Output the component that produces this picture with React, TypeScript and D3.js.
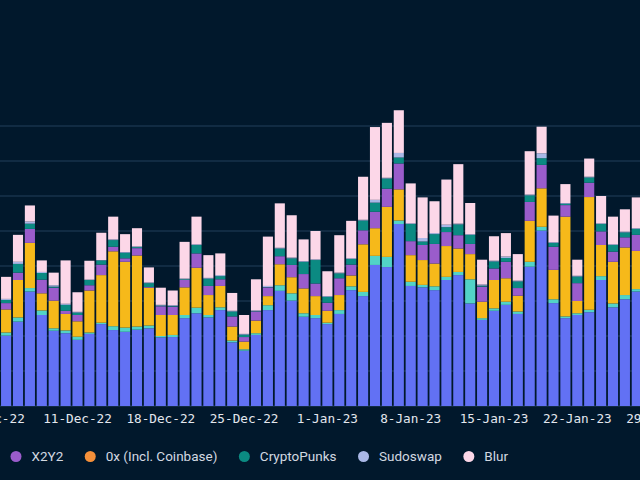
import React from "react";
import * as d3 from "d3";

const W = 640;
const H = 480;

// Axis categories: every day shown on the (cropped) time axis
const axisStart = new Date(2022, 11, 4);
const axisEnd = new Date(2023, 0, 30);
const dataStart = new Date(2022, 11, 5);
const tickLabels = ["4-Dec-22", "11-Dec-22", "18-Dec-22", "25-Dec-22", "1-Jan-23", "8-Jan-23", "15-Jan-23", "22-Jan-23", "29-Jan-23"];

const seriesNames = ["OpenSea", "Gem", "LooksRare", "X2Y2", "0x (Incl. Coinbase)", "CryptoPunks", "Sudoswap", "Blur"];
const seriesColors = ["#6271f4", "#52d3c7", "#f6b91a", "#9a5ccb", "#f5903a", "#0b8a82", "#a9b7e6", "#fcd7e8"];

const openSea = [20.1, 24.1, 32.7, 26.0, 21.5, 20.8, 18.9, 20.6, 23.4, 21.7, 21.2, 21.8, 22.2, 19.6, 19.7, 25.1, 26.5, 25.3, 27.4, 18.2, 15.8, 20.3, 27.4, 32.9, 30.1, 25.5, 25.1, 23.4, 26.3, 33.1, 31.4, 40.3, 39.7, 52.0, 34.3, 33.9, 33.1, 36.0, 37.4, 29.3, 24.6, 27.2, 28.9, 26.3, 39.8, 50.1, 29.4, 25.1, 26.0, 26.8, 36.0, 28.2, 30.5, 32.7];
const gem = [0.9, 1.2, 1.0, 1.3, 0.7, 0.8, 0.9, 0.4, 0.4, 1.1, 1.2, 0.9, 0.8, 0.4, 0.6, 0.9, 1.6, 0.7, 0.8, 0.5, 0.4, 0.5, 1.4, 1.6, 2.1, 1.0, 0.9, 0.4, 1.1, 1.1, 1.2, 2.6, 2.9, 1.0, 1.2, 0.7, 1.1, 0.9, 0.9, 6.9, 0.5, 0.7, 0.9, 0.7, 1.4, 1.1, 1.1, 0.5, 0.5, 0.7, 1.1, 1.1, 1.2, 0.7];
const looksRare = [6.6, 10.7, 12.9, 4.9, 7.9, 4.7, 4.4, 12.0, 13.6, 21.4, 18.8, 20.3, 10.8, 6.0, 5.7, 7.9, 11.4, 5.7, 6.1, 4.0, 2.2, 3.6, 2.6, 6.0, 4.6, 7.1, 5.4, 3.4, 4.3, 3.1, 13.6, 7.9, 14.3, 8.9, 7.6, 7.1, 6.5, 8.8, 6.7, 7.2, 4.7, 8.1, 6.7, 4.5, 11.7, 11.0, 8.4, 28.5, 3.5, 32.2, 8.9, 11.9, 13.6, 10.9];
const x2y2 = [1.8, 2.1, 4.0, 3.9, 3.7, 0.9, 1.8, 1.5, 3.0, 1.3, 1.0, 2.1, 0.2, 2.5, 2.4, 2.1, 4.1, 2.6, 1.9, 2.9, 1.3, 2.6, 2.5, 2.3, 3.5, 4.1, 3.6, 2.3, 4.8, 3.1, 4.0, 4.7, 5.2, 7.4, 4.0, 4.3, 5.6, 4.0, 3.8, 2.9, 4.3, 3.3, 4.7, 2.2, 5.4, 6.7, 6.6, 3.3, 5.1, 4.1, 3.9, 2.9, 2.9, 4.6];
const zeroX = [0, 0, 0, 0, 0, 0, 0, 0, 0, 0, 0, 0, 0, 0, 0, 0, 0, 0, 0, 0, 0, 0, 0, 0, 0, 0, 0, 0, 0, 0, 0, 0, 0, 0, 0, 0, 0, 0, 0, 0, 0, 0, 0, 0, 0, 0, 0, 0, 0, 0, 0, 0, 0, 0];
const cryptoPunks = [0.9, 2.5, 1.5, 1.9, 0.3, 1.7, 0.7, 1.5, 1.2, 1.9, 1.6, 0.3, 1.1, 0.2, 0.2, 0.2, 2.4, 2.1, 0.9, 1.4, 0.7, 0.1, 0.1, 2.2, 1.9, 3.5, 6.7, 1.7, 1.4, 1.6, 2.8, 2.6, 2.9, 1.7, 4.9, 1.0, 2.8, 1.4, 3.1, 2.6, 0.3, 2.0, 1.1, 1.9, 1.9, 1.9, 1.1, 0.4, 1.9, 1.5, 2.1, 1.9, 1.4, 1.7];
const sudoswap = [0.3, 0.6, 0.6, 0.3, 0.4, 0.3, 0.2, 0.1, 0.1, 0.2, 0.2, 0.2, 0.2, 0.2, 0.2, 0.2, 0.2, 0.2, 0.3, 0.2, 0.2, 0.2, 0.3, 0.2, 0.2, 0.2, 0.2, 0.2, 0.2, 0.2, 0.2, 0.8, 0.2, 1.3, 0.2, 1.0, 0.3, 0.7, 0.2, 0.2, 0.3, 0.2, 0.4, 0.2, 0.2, 1.4, 0.2, 0.2, 0.2, 0.2, 0.2, 0.2, 0.2, 0.2];
const blur = [6.3, 7.7, 4.6, 3.3, 3.6, 12.4, 5.6, 5.4, 7.8, 6.5, 5.1, 5.2, 4.3, 4.9, 4.2, 10.5, 7.9, 6.5, 6.2, 5.1, 5.4, 8.9, 14.1, 12.7, 12.1, 6.2, 8.1, 7.1, 10.7, 10.7, 12.3, 20.8, 15.7, 12.2, 11.4, 11.6, 9.1, 12.9, 17.0, 8.9, 7.1, 7.0, 6.7, 7.6, 12.4, 7.6, 7.6, 5.4, 4.6, 5.2, 7.8, 7.9, 6.4, 8.8];

const yTicks = [0, 10, 20, 30, 40, 50, 60, 70, 80];

const seriesValues = [openSea, gem, looksRare, x2y2, zeroX, cryptoPunks, sudoswap, blur];

const fmt = d3.timeFormat("%-d-%b-%y");

export default function App() {
  const days = d3.timeDay.range(axisStart, axisEnd).map(fmt);
  const rows = openSea.map((_, i) => {
    const row: any = { day: fmt(d3.timeDay.offset(dataStart, i)) };
    seriesNames.forEach((n, k) => (row[n] = seriesValues[k][i]));
    return row;
  });
  const stacked = d3.stack<any>().keys(seriesNames)(rows);

  const step = 11.9;
  const x0 = -11.75;
  const x = d3
    .scaleBand<string>()
    .domain(days)
    .range([x0, x0 + step * days.length])
    .paddingInner(0.15)
    .paddingOuter(0.075);
  const y = d3.scaleLinear().domain([0, 80]).range([406, 126]);

  // legend layout
  const legendFont = "13.5px Roboto";
  let widths: number[] = seriesNames.map((n) => n.length * 6.6);
  if (typeof document !== "undefined") {
    const ctx = document.createElement("canvas").getContext("2d");
    if (ctx) {
      ctx.font = legendFont;
      widths = seriesNames.map((n) => ctx.measureText(n).width);
    }
  }
  const dotToText = 15.5;
  const gap = 27;
  const anchorIdx = 3;
  const anchorX = 16;
  const pos: number[] = [];
  pos[anchorIdx] = anchorX;
  for (let k = anchorIdx + 1; k < seriesNames.length; k++) pos[k] = pos[k - 1] + dotToText + widths[k - 1] + gap;
  for (let k = anchorIdx - 1; k >= 0; k--) pos[k] = pos[k + 1] - (dotToText + widths[k] + gap);

  return (
    <svg width={W} height={H} style={{ position: "absolute", left: 0, top: 0, display: "block" }}>
      <rect x={0} y={0} width={W} height={H} fill="#01182c" />
      {yTicks.map((t) => (
        <line key={t} x1={0} x2={W} y1={y(t)} y2={y(t)} stroke="#17324b" strokeWidth={1.5} />
      ))}
      {stacked.map((s, k) => (
        <g key={s.key} fill={seriesColors[k]}>
          {s.map((d, i) => {
            const h = y(d[0]) - y(d[1]);
            if (h <= 0) return null;
            return <rect key={i} x={x(d.data.day)} y={y(d[1])} width={x.bandwidth()} height={h} />;
          })}
        </g>
      ))}
      <g fontFamily="'DejaVu Sans Mono', monospace" fontSize={12.7} fill="#e3e7ee" textAnchor="middle">
        {tickLabels.map((t) => (
          <text key={t} x={(x(t) ?? 0) + x.bandwidth() / 2} y={423}>
            {t}
          </text>
        ))}
      </g>
      <g fontFamily="Roboto, sans-serif" fontSize={13.5} fill="#d3d8e1">
        {seriesNames.map((n, k) => (
          <g key={n}>
            <circle cx={pos[k]} cy={456.5} r={5.5} fill={seriesColors[k]} />
            <text x={pos[k] + dotToText} y={461.3}>
              {n}
            </text>
          </g>
        ))}
      </g>
    </svg>
  );
}
